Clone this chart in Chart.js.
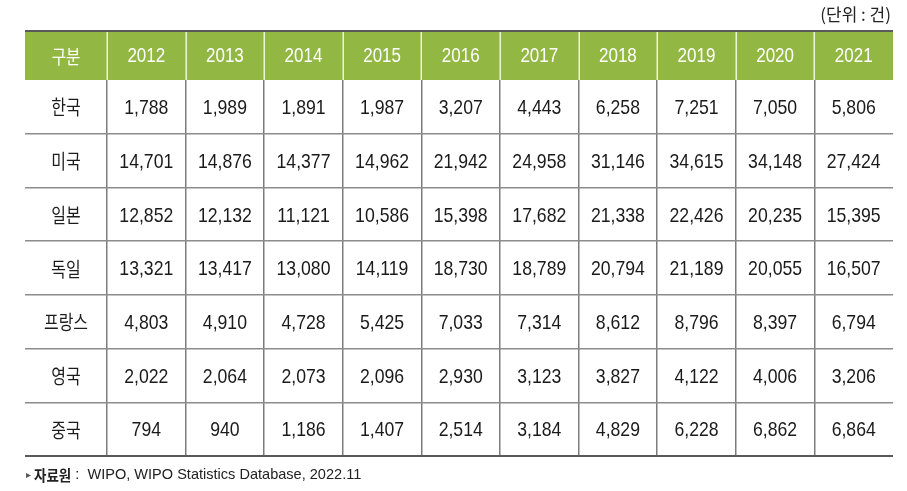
<!DOCTYPE html>
<html>
<head>
<meta charset="utf-8">
<script src="https://cdn.jsdelivr.net/npm/chart.js@4/dist/chart.umd.min.js"></script>
<style>
html,body{margin:0;padding:0;background:#ffffff;}
#wrap{width:907px;height:491px;position:relative;}
</style>
</head>
<body>
<div id="wrap"><canvas id="c" width="907" height="491"></canvas></div>
<script>
// ---------- data ----------
const unitLabel = '(단위 : 건)';
const sourceMark = '▸';
const sourceLabel = '자료원';
const sourceText = ' :  WIPO, WIPO Statistics Database, 2022.11';
const headerLabel = '구분';
const years = ['2012','2013','2014','2015','2016','2017','2018','2019','2020','2021'];
const countries = ['한국','미국','일본','독일','프랑스','영국','중국'];
const korea   = [1788, 1989, 1891, 1987, 3207, 4443, 6258, 7251, 7050, 5806];
const usa     = [14701, 14876, 14377, 14962, 21942, 24958, 31146, 34615, 34148, 27424];
const japan   = [12852, 12132, 11121, 10586, 15398, 17682, 21338, 22426, 20235, 15395];
const germany = [13321, 13417, 13080, 14119, 18730, 18789, 20794, 21189, 20055, 16507];
const france  = [4803, 4910, 4728, 5425, 7033, 7314, 8612, 8796, 8397, 6794];
const uk      = [2022, 2064, 2073, 2096, 2930, 3123, 3827, 4122, 4006, 3206];
const china   = [794, 940, 1186, 1407, 2514, 3184, 4829, 6228, 6862, 6864];
const seriesValues = [korea, usa, japan, germany, france, uk, china];

// ---------- table geometry in scale units ----------
const FIRST_COL = 82 / 78.6;
const HEADER_ROW = 49 / 53.7;
const xBounds = [0];
for (let k = 0; k <= years.length; k++) xBounds.push(FIRST_COL + k);
const yBounds = [0, HEADER_ROW];
for (let r = 1; r <= countries.length; r++) yBounds.push(HEADER_ROW + r);
const colCenter = k => (xBounds[k] + xBounds[k + 1]) / 2;
const rowCenter = r => (yBounds[r] + yBounds[r + 1]) / 2;

const GREEN = '#92b843';
const fmt = v => v.toLocaleString('en-US');

function drawText(ctx, text, px, py, font, color, sx, align) {
  ctx.save();
  ctx.translate(px, py);
  ctx.scale(sx, 1);
  ctx.font = font;
  ctx.fillStyle = color;
  ctx.textAlign = align || 'center';
  ctx.textBaseline = 'middle';
  ctx.fillText(text, 0, 0);
  ctx.restore();
}

const NUM_FONT = '21px "Liberation Sans", Arial, sans-serif';
const KR_FONT = '20px "Noto Sans CJK KR", sans-serif';

const tablePlugin = {
  id: 'tableCells',
  beforeDatasetsDraw(chart) {
    const {ctx, chartArea: a, scales: {x, y}} = chart;
    const hTop = y.getPixelForValue(yBounds[0]);
    const hBot = y.getPixelForValue(yBounds[1]);
    ctx.save();
    ctx.fillStyle = GREEN;
    ctx.fillRect(a.left, hTop + 1, a.right - a.left, hBot - hTop - 1);
    ctx.strokeStyle = '#eef4d6';
    ctx.lineWidth = 1.5;
    for (let k = 1; k < xBounds.length - 1; k++) {
      const px = Math.round(x.getPixelForValue(xBounds[k])) + 0.25;
      ctx.beginPath();
      ctx.moveTo(px, hTop + 1);
      ctx.lineTo(px, hBot);
      ctx.stroke();
    }
    ctx.restore();
  },
  afterDatasetsDraw(chart) {
    const {ctx, chartArea: a, scales: {x, y}} = chart;
    // header row
    const hy = y.getPixelForValue(rowCenter(0)) + 1;
    drawText(ctx, headerLabel, x.getPixelForValue(colCenter(0)), hy, '19px "Noto Sans CJK KR", sans-serif', '#ffffff', 0.82);
    years.forEach((yr, j) => {
      drawText(ctx, yr, x.getPixelForValue(colCenter(j + 1)), hy, '20px "Liberation Sans", Arial, sans-serif', '#ffffff', 0.85);
    });
    // row labels
    countries.forEach((c, r) => {
      drawText(ctx, c, x.getPixelForValue(colCenter(0)), y.getPixelForValue(rowCenter(r + 1)) + 1, KR_FONT, '#1c1c1c', 0.8);
    });
    // values from dataset elements
    chart.data.datasets.forEach((ds, di) => {
      const meta = chart.getDatasetMeta(di);
      meta.data.forEach((el, i) => {
        drawText(ctx, fmt(ds.data[i].v), el.x, el.y + 1.5, NUM_FONT, '#1a1a1a', 0.84);
      });
    });
    // unit label
    drawText(ctx, unitLabel, a.right - 2, a.top - 16, '17px "Noto Sans CJK KR", sans-serif', '#222222', 1.0, 'right');
    // source note
    let sx = a.left + 1;
    const sy = a.bottom + 19;
    drawText(ctx, sourceMark, sx, sy, '10px "DejaVu Sans", sans-serif', '#555555', 1, 'left');
    sx += 8;
    ctx.save();
    ctx.font = 'bold 15px "Noto Sans CJK KR", sans-serif';
    const w1 = ctx.measureText(sourceLabel).width * 0.9;
    ctx.restore();
    drawText(ctx, sourceLabel, sx, sy, 'bold 15px "Noto Sans CJK KR", sans-serif', '#222222', 0.9, 'left');
    sx += w1;
    drawText(ctx, sourceText, sx, sy, '15px "Liberation Sans", Arial, sans-serif', '#222222', 0.97, 'left');
  }
};

const datasets = countries.map((name, r) => ({
  label: name,
  data: seriesValues[r].map((v, j) => ({x: colCenter(j + 1), y: rowCenter(r + 1), v: v})),
  pointRadius: 0,
  pointHoverRadius: 0,
  showLine: false
}));

const lastY = yBounds.length - 1;
const lastX = xBounds.length - 1;

new Chart(document.getElementById('c'), {
  type: 'scatter',
  data: {datasets},
  options: {
    responsive: false,
    animation: false,
    devicePixelRatio: 1,
    events: [],
    layout: {padding: {left: 25, right: 14, top: 31, bottom: 35}},
    plugins: {legend: {display: false}, tooltip: {enabled: false}, title: {display: false}},
    scales: {
      x: {
        type: 'linear', min: 0, max: xBounds[lastX],
        afterBuildTicks: s => { s.ticks = xBounds.map(v => ({value: v})); },
        ticks: {display: false},
        border: {display: false},
        grid: {
          drawTicks: false,
          color: c => (c.index === 0 || c.index === lastX) ? 'rgba(0,0,0,0)' : '#7d7d7d',
          lineWidth: 1.5
        }
      },
      y: {
        type: 'linear', reverse: true, min: 0, max: yBounds[lastY],
        afterBuildTicks: s => { s.ticks = yBounds.map(v => ({value: v})); },
        ticks: {display: false},
        border: {display: false},
        grid: {
          drawTicks: false,
          color: c => (c.index === 0 || c.index === lastY) ? '#5a5a5a' : (c.index === 1 ? 'rgba(0,0,0,0)' : '#8c8c8c'),
          lineWidth: c => (c.index === 0 || c.index === lastY) ? 2 : 1.5
        }
      }
    }
  },
  plugins: [tablePlugin]
});
</script>
</body>
</html>
